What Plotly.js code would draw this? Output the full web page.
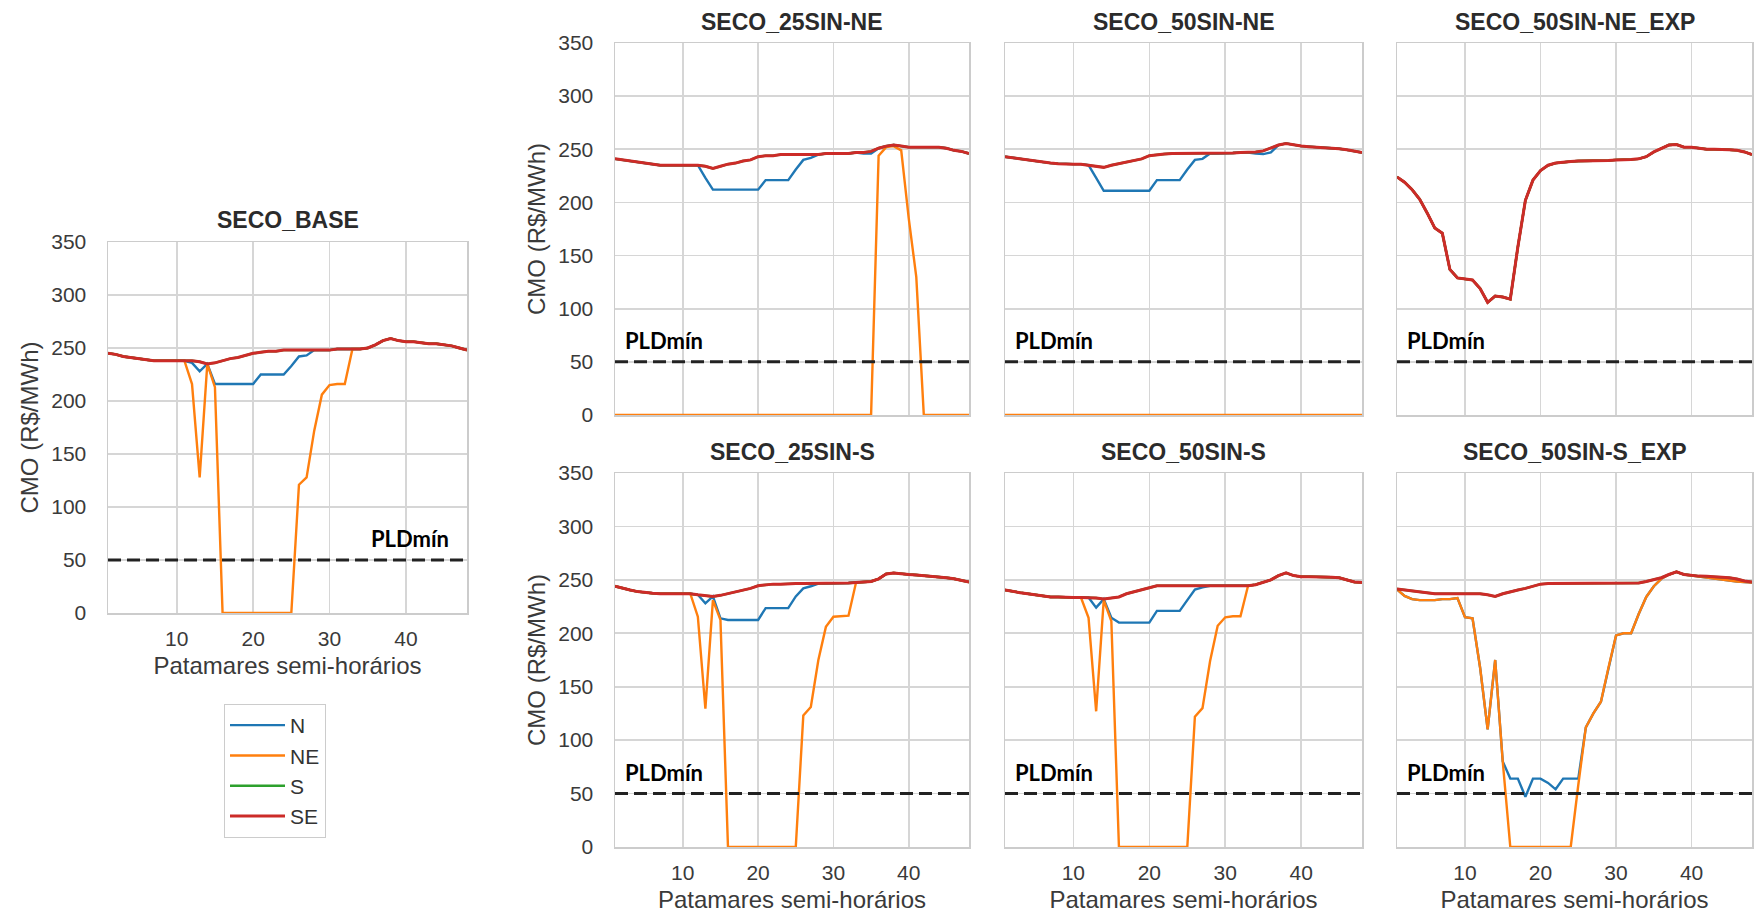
<!DOCTYPE html>
<html>
<head>
<meta charset="utf-8">
<script src="https://cdn.plot.ly/plotly-3.0.1.min.js"></script>
<style>
  html, body { margin: 0; padding: 0; background: #ffffff; }
  #chart { width: 1754px; height: 918px; }
</style>
</head>
<body>
<div id="chart"></div>
<script>
// ---------------- DATA ----------------
const patamares = [1,2,3,4,5,6,7,8,9,10,11,12,13,14,15,16,17,18,19,20,21,22,23,24,25,26,27,28,29,30,31,32,33,34,35,36,37,38,39,40,41,42,43,44,45,46,47,48];
const seriesNames = ["N", "NE", "S", "SE"];
const PLD_MIN = 50;
const pldLabel = "PLDmín";
const xTitle = "Patamares semi-horários";
const yTitle = "CMO (R$/MWh)";
const xTicks = [10, 20, 30, 40];
const yTicks = [0, 50, 100, 150, 200, 250, 300, 350];

// SECO_BASE
const base_SE = [245,244,242,241,240,239,238,238,238,238,238,238,237,235,236,238,240,241,243,245,246,247,247,248,248,248,248,248,248,248,249,249,249,249,250,253,257,259,257,256,256,255,254,254,253,252,250,248];
const base_S  = base_SE;
const base_N  = [245,244,242,241,240,239,238,238,238,238,238,236,228,235,216,216,216,216,216,216,225,225,225,225,233,242,243,248,248,248,249,249,249,249,250,253,257,259,257,256,256,255,254,254,253,252,250,248];
const base_NE = [245,244,242,241,240,239,238,238,238,238,238,216,128,235,213,0,0,0,0,0,0,0,0,0,0,121,128,172,206,215,216,216,249,249,250,253,257,259,257,256,256,255,254,254,253,252,250,248];

// SECO_25SIN-NE
const sin25ne_SE = [241,240,239,238,237,236,235,235,235,235,235,235,234,232,234,236,237,239,240,243,244,244,245,245,245,245,245,245,246,246,246,246,247,247,248,251,253,254,253,252,252,252,252,252,251,249,248,246];
const sin25ne_S  = sin25ne_SE;
const sin25ne_N  = [241,240,239,238,237,236,235,235,235,235,235,235,223,212,212,212,212,212,212,212,221,221,221,221,231,240,242,245,246,246,246,246,247,246,246,251,253,254,253,252,252,252,252,252,251,249,248,246];
const sin25ne_NE = [0,0,0,0,0,0,0,0,0,0,0,0,0,0,0,0,0,0,0,0,0,0,0,0,0,0,0,0,0,0,0,0,0,0,0,244,252,253,249,185,130,0,0,0,0,0,0,0];

// SECO_50SIN-NE
const sin50ne_SE = [243,242,241,239.5,238.5,237.5,237,236.5,236,236,236,235,234,233,235,236.5,238,239.5,241,244,245,245.5,246,246,246,246,246,246,246,246,246.5,247,247,247.5,248.5,251.5,254,255.5,254,253,252.5,252,252,251.5,250.5,249.5,248,247];
const sin50ne_S  = sin50ne_SE;
const sin50ne_N  = [243,242,241,239.5,238.5,237.5,237,236.5,236,236,236,235,223,211,211,211,211,211,211,211,221,221,221,221,231,240,241,246,246,246,246.5,247,247,246,245.5,247,254,255.5,254,253,252.5,252,252,251.5,250.5,249.5,248,247];
const sin50ne_NE = [0,0,0,0,0,0,0,0,0,0,0,0,0,0,0,0,0,0,0,0,0,0,0,0,0,0,0,0,0,0,0,0,0,0,0,0,0,0,0,0,0,0,0,0,0,0,0,0];

// SECO_50SIN-NE_EXP (all subsystems coincide)
const sin50neExp_SE = [224,219,212,203,190,176,171,137,129,128,127,119,106,112,111,109,158,202,221,230,235,237,238,238.5,239,239,239,239,239.5,240,240,240.5,241,243,247.5,251,254,254.5,252,252,251,250,250,250,249.5,249,247.5,245];
const sin50neExp_S  = sin50neExp_SE;
const sin50neExp_N  = sin50neExp_SE;
const sin50neExp_NE = sin50neExp_SE;

// SECO_25SIN-S
const sin25s_SE = [244,242,240.5,239,238,237.5,237,237,237,237,237,236,235,234.5,235.5,237,239,240,242,244.5,245.5,246,246,246.5,246.5,246.5,246.5,246.5,246.5,246.5,247,247,247.5,248,248.5,251,255.5,256.5,255.5,255,254.5,254,253.5,253,252,251,249.5,248];
const sin25s_S  = sin25s_SE;
const sin25s_N  = [244,242,240.5,239,238,237.5,237,237,237,237,237,236,228,234.5,214,212.5,212.5,212.5,212.5,212.5,223.5,223.5,223.5,223.5,234.5,242,244,246.5,246.5,246.5,247,247,247.5,248,248.5,251,255.5,256.5,255.5,255,254.5,254,253.5,253,252,251,249.5,248];
const sin25s_NE = [244,242,240.5,239,238,237.5,237,237,237,237,237,215.5,129.5,231,212.5,0,0,0,0,0,0,0,0,0,0,123,131,175,206,215.5,216,216.5,247.5,248,248.5,251,255.5,256.5,255.5,255,254.5,254,253.5,253,252,251,249.5,248];

// SECO_50SIN-S
const sin50s_SE = [240.5,239,238,237,236,235,234,234,233.5,233.5,233.5,233.5,233,232,233,234,237,239,240.5,243,244.5,244.5,244.5,244.5,244.5,244.5,244.5,244.5,244.5,244.5,244.5,244.5,244.5,245.5,247.5,250,254,256.5,254,253,253,253,252.5,252.5,252,250,248,247.5];
const sin50s_S  = sin50s_SE;
const sin50s_N  = [240.5,239,238,237,236,235,234,234,233.5,233.5,233.5,233.5,224,232,214.5,210,210,210,210,210,221,221,221,221,231,241,243,244.5,244.5,244.5,244.5,244.5,244.5,245.5,247.5,250,254,256.5,254,253,253,253,252.5,252.5,252,250,248,247.5];
const sin50s_NE = [240.5,239,238,237,236,235,234,234,233.5,233.5,233.5,214.5,127,231,211.5,0,0,0,0,0,0,0,0,0,0,122,130,174,207,215,216,216,244.5,245.5,247.5,250,254,256.5,254,253,253,253,252.5,252.5,252,250,248,247.5];

// SECO_50SIN-S_EXP
const sin50sExp_SE = [241.5,240.5,240,238.5,237.5,237,237,237,237,237,237,237,236,234.5,237,239,240.5,242,244,246,246.5,246.5,246.5,246.5,246.5,246.5,246.5,246.5,246.5,246.5,246.5,246.5,247,248.5,250,252,255,257.5,255,254,253.5,253.3,253,252.7,252,250.8,249,248];
const sin50sExp_S  = sin50sExp_SE;
const sin50sExp_NE = [241,235,232,231,231,231,232,232,233,215,214,168,110,175,80,0,0,0,0,0,0,0,0,0,58,112,125,136,168,198,200,200,218,234,244,251,255,257.5,255,254,253,252.5,251.5,250,249,248.5,248,247.5];
const sin50sExp_N  = [241,235,232,231,231,231,232,232,233,215,214,168,110,175,80,64,64,47,64,64,60,54,64,64,64,112,125,136,168,198,200,200,218,234,244,251,255,257.5,255,254,253,252.5,251.5,250,249,248.5,248,247.5];

const panelTitles = ["SECO_BASE", "SECO_25SIN-NE", "SECO_50SIN-NE", "SECO_50SIN-NE_EXP", "SECO_25SIN-S", "SECO_50SIN-S", "SECO_50SIN-S_EXP"];
const panelData = [
  [base_N, base_NE, base_S, base_SE],
  [sin25ne_N, sin25ne_NE, sin25ne_S, sin25ne_SE],
  [sin50ne_N, sin50ne_NE, sin50ne_S, sin50ne_SE],
  [sin50neExp_N, sin50neExp_NE, sin50neExp_S, sin50neExp_SE],
  [sin25s_N, sin25s_NE, sin25s_S, sin25s_SE],
  [sin50s_N, sin50s_NE, sin50s_S, sin50s_SE],
  [sin50sExp_N, sin50sExp_NE, sin50sExp_S, sin50sExp_SE]
];

// ---------------- STYLE / LAYOUT ----------------
const W = 1754, H = 918;
const colors = ["#1f77b4", "#ff7f0e", "#2ca02c", "#cc2b28"];
const widths = [2.4, 2.4, 2.4, 3];
const FONT = "'Liberation Sans', Arial, Helvetica, sans-serif";
const TXT = "#333333";

// pixel boxes of each panel's plot area: [left, right, top, bottom]
const boxes = [
  [108, 467, 242, 613],
  [615, 969, 43, 415],
  [1005, 1362, 43, 415],
  [1397, 1752, 43, 415],
  [615, 969, 473, 847],
  [1005, 1362, 473, 847],
  [1397, 1752, 473, 847]
];
const titleY = [220, 22, 22, 22, 452, 452, 452];
const showXLabels = [true, false, false, false, true, true, true];
const showYLabels = [true, true, false, false, true, false, false];
const pldX = [35.2, 2, 2, 2, 2, 2, 2];
const PLD_LABEL_Y = 70;

const traces = [];
const layout = {
  width: W, height: H,
  margin: {l: 0, r: 0, t: 0, b: 0, pad: 0},
  paper_bgcolor: "#ffffff",
  plot_bgcolor: "#ffffff",
  font: {family: FONT, color: TXT, size: 20},
  showlegend: true,
  legend: {
    x: 224 / W, y: 1 - 704 / H, xanchor: "left", yanchor: "top",
    bgcolor: "#ffffff", bordercolor: "#cccccc", borderwidth: 1,
    font: {family: FONT, size: 21, color: TXT},
    itemwidth: 55, traceorder: "normal", tracegroupgap: 0
  },
  annotations: [],
  shapes: []
};

panelData.forEach((series, i) => {
  const sfx = i === 0 ? "" : String(i + 1);
  const [l, r, t, b] = boxes[i];
  series.forEach((vals, k) => {
    traces.push({
      type: "scatter", mode: "lines",
      x: patamares, y: vals,
      xaxis: "x" + sfx, yaxis: "y" + sfx,
      name: seriesNames[k], legendgroup: seriesNames[k],
      showlegend: i === 0,
      line: {color: colors[k], width: widths[k]},
      hoverinfo: "x+y+name"
    });
  });
  layout["xaxis" + sfx] = {
    domain: [l / W, r / W], anchor: "y" + sfx,
    range: [1, 48], tickvals: xTicks, ticktext: xTicks.map(String),
    showticklabels: showXLabels[i], ticks: "", ticklabelstandoff: 6,
    tickfont: {family: FONT, size: 21, color: "#3a3a3a"},
    showgrid: true, gridcolor: "#d6d6d6", gridwidth: 1.6,
    showline: true, mirror: true, linecolor: "#cccccc", linewidth: 1.5,
    zeroline: false, fixedrange: true,
    title: showXLabels[i] ? {text: xTitle, font: {family: FONT, size: 24, color: "#3a3a3a"}, standoff: 8} : {text: ""}
  };
  layout["yaxis" + sfx] = {
    domain: [1 - b / H, 1 - t / H], anchor: "x" + sfx,
    range: [0, 350], tickvals: yTicks, ticktext: yTicks.map(String),
    showticklabels: showYLabels[i], ticks: "", ticklabelstandoff: 16,
    tickfont: {family: FONT, size: 21, color: "#3a3a3a"},
    showgrid: true, gridcolor: "#d6d6d6", gridwidth: 1.6,
    showline: true, mirror: true, linecolor: "#cccccc", linewidth: 1.5,
    zeroline: false, fixedrange: true,
    title: showYLabels[i] ? {text: yTitle, font: {family: FONT, size: 24, color: "#3a3a3a"}, standoff: 6} : {text: ""}
  };
  // PLDmin reference line
  layout.shapes.push({
    type: "line", xref: "x" + sfx + " domain", yref: "y" + sfx,
    x0: 0, x1: 1, y0: PLD_MIN, y1: PLD_MIN,
    line: {color: "#222222", width: 3, dash: "13px,6px"}, layer: "above"
  });
  // PLDmin label
  layout.annotations.push({
    xref: "x" + sfx, yref: "y" + sfx, x: pldX[i], y: PLD_LABEL_Y,
    xanchor: "left", yanchor: "middle", showarrow: false,
    text: "<b>" + pldLabel + "</b>",
    font: {family: "Lato, 'Open Sans', sans-serif", size: 22, color: "#000000"}
  });
  // panel title
  layout.annotations.push({
    xref: "paper", yref: "paper", x: ((l + r) / 2) / W, y: 1 - titleY[i] / H,
    xanchor: "center", yanchor: "middle", showarrow: false,
    text: "<b>" + panelTitles[i] + "</b>",
    font: {family: FONT, size: 23, color: "#2b2b2b"}
  });
});

Plotly.newPlot("chart", traces, layout, {staticPlot: true, displayModeBar: false});
</script>
</body>
</html>
